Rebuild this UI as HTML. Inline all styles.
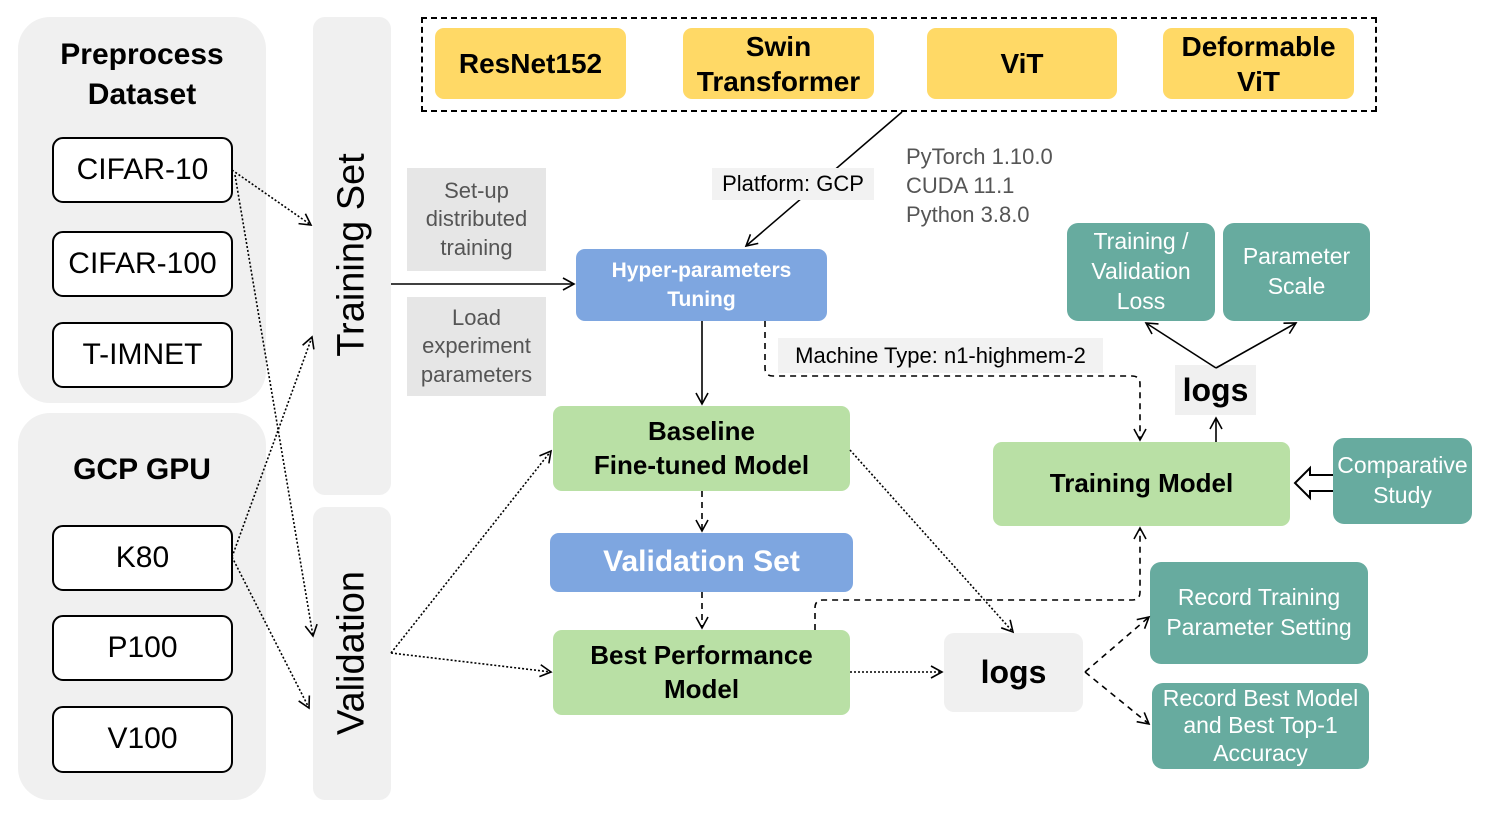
<!DOCTYPE html>
<html><head><meta charset="utf-8"><style>
body{margin:0;width:1489px;height:819px;background:#fff;position:relative;overflow:hidden;font-family:"Liberation Sans",Arial,sans-serif}
.b{position:absolute;display:flex;align-items:center;justify-content:center;text-align:center;box-sizing:border-box;line-height:1.15}
.panel{background:#f0f0f0;border-radius:32px}
.col{background:#f0f0f0;border-radius:12px}
.ds{border:2px solid #000;border-radius:11px;background:#fff;font-size:30px}
.y{background:#ffd966;border-radius:9px;font-weight:bold;font-size:28px;line-height:1.25}
.g{background:#b9e0a5;border-radius:9px;font-weight:bold;font-size:26px}
.bl{background:#7ea6e0;border-radius:9px;font-weight:bold;color:#fff}
.t{background:#67ab9f;border-radius:11px;color:#fff;font-size:23px}
.gr{background:#e6e6e6;color:#555;font-size:22px}
.lb{background:#f2f2f2;font-size:22px}
.vert{position:absolute;transform:rotate(-90deg);font-size:38px;white-space:nowrap}
</style></head><body>
<div class="b panel" style="left:18px;top:17px;width:248px;height:386px"></div>
<div class="b panel" style="left:18px;top:413px;width:248px;height:387px"></div>
<div class="b" style="left:18px;top:33px;width:248px;height:84px;font-weight:bold;font-size:30px;line-height:1.35">Preprocess<br>Dataset</div>
<div class="b" style="left:18px;top:448px;width:248px;height:44px;font-weight:bold;font-size:30px">GCP GPU</div>
<div class="b ds" style="left:52px;top:137px;width:181px;height:66px">CIFAR-10</div>
<div class="b ds" style="left:52px;top:231px;width:181px;height:66px">CIFAR-100</div>
<div class="b ds" style="left:52px;top:322px;width:181px;height:66px">T-IMNET</div>
<div class="b ds" style="left:52px;top:525px;width:181px;height:66px">K80</div>
<div class="b ds" style="left:52px;top:615px;width:181px;height:66px">P100</div>
<div class="b ds" style="left:52px;top:706px;width:181px;height:67px">V100</div>
<div class="b col" style="left:313px;top:17px;width:78px;height:478px"></div>
<div class="b col" style="left:313px;top:507px;width:78px;height:293px"></div>
<div class="vert" style="left:352px;top:255px;transform:translate(-50%,-50%) rotate(-90deg)">Training Set</div>
<div class="vert" style="left:352px;top:653px;transform:translate(-50%,-50%) rotate(-90deg)">Validation</div>
<div class="b" style="left:421px;top:17px;width:956px;height:95px;border:2px dashed #000"></div>
<div class="b y" style="left:435px;top:28px;width:191px;height:71px">ResNet152</div>
<div class="b y" style="left:683px;top:28px;width:191px;height:71px">Swin<br>Transformer</div>
<div class="b y" style="left:927px;top:28px;width:190px;height:71px">ViT</div>
<div class="b y" style="left:1163px;top:28px;width:191px;height:71px">Deformable<br>ViT</div>
<div class="b gr" style="left:407px;top:168px;width:139px;height:103px;line-height:1.3">Set-up<br>distributed<br>training</div>
<div class="b gr" style="left:407px;top:297px;width:139px;height:99px;line-height:1.3">Load<br>experiment<br>parameters</div>
<div style="position:absolute;left:906px;top:142px;font-size:22px;color:#555;line-height:29px">PyTorch 1.10.0<br>CUDA 11.1<br>Python 3.8.0</div>
<div class="b bl" style="left:576px;top:249px;width:251px;height:72px;font-size:21px;line-height:1.4">Hyper-parameters<br>Tuning</div>
<div class="b g" style="left:553px;top:406px;width:297px;height:85px;line-height:1.3">Baseline<br>Fine-tuned Model</div>
<div class="b bl" style="left:550px;top:533px;width:303px;height:59px;font-size:30px">Validation Set</div>
<div class="b g" style="left:553px;top:630px;width:297px;height:85px;line-height:1.3">Best Performance<br>Model</div>
<div class="b" style="left:944px;top:633px;width:139px;height:79px;background:#f0f0f0;border-radius:10px;font-weight:bold;font-size:32px">logs</div>
<div class="b g" style="left:993px;top:442px;width:297px;height:84px">Training Model</div>
<div class="b" style="left:1175px;top:365px;width:81px;height:50px;background:#f0f0f0;font-weight:bold;font-size:32px">logs</div>
<div class="b t" style="left:1067px;top:223px;width:148px;height:98px;line-height:1.3">Training /<br>Validation<br>Loss</div>
<div class="b t" style="left:1223px;top:223px;width:147px;height:98px;line-height:1.3">Parameter<br>Scale</div>
<div class="b t" style="left:1333px;top:438px;width:139px;height:86px;line-height:1.3">Comparative<br>Study</div>
<div class="b t" style="left:1150px;top:562px;width:218px;height:102px;line-height:1.3">Record Training<br>Parameter Setting</div>
<div class="b t" style="left:1152px;top:683px;width:217px;height:86px;line-height:1.2">Record Best Model<br>and Best Top-1<br>Accuracy</div>
<svg style="position:absolute;left:0;top:0" width="1489" height="819">
<defs><marker id="a" markerWidth="14" markerHeight="14" refX="12" refY="7" orient="auto" markerUnits="userSpaceOnUse"><path d="M1,1 L12,7 L1,13" fill="none" stroke="#000" stroke-width="1.6"/></marker></defs>
<g fill="none" stroke="#000" stroke-width="1.6">
<line x1="391" y1="284" x2="574" y2="284" marker-end="url(#a)"/>
<line x1="702" y1="321" x2="702" y2="404" marker-end="url(#a)"/>
<line x1="902" y1="112" x2="746" y2="246" marker-end="url(#a)"/>
<line x1="1216" y1="442" x2="1216" y2="418" marker-end="url(#a)"/>
<line x1="1216" y1="368" x2="1146" y2="323" marker-end="url(#a)"/>
<line x1="1216" y1="368" x2="1296" y2="323" marker-end="url(#a)"/>
<g stroke-dasharray="6,5">
<line x1="702" y1="491" x2="702" y2="531" marker-end="url(#a)"/>
<line x1="702" y1="592" x2="702" y2="628" marker-end="url(#a)"/>
<path d="M765,321 V368 Q765,376 773,376 H1132 Q1140,376 1140,384 V440" marker-end="url(#a)"/>
<path d="M815,630 V608 Q815,600 823,600 H1132 Q1140,600 1140,592 V528" marker-end="url(#a)"/>
<line x1="1085" y1="672" x2="1149" y2="617" marker-end="url(#a)"/>
<line x1="1085" y1="672" x2="1149" y2="724" marker-end="url(#a)"/>
</g>
<g stroke-dasharray="2,2">
<line x1="232" y1="170" x2="311" y2="225" marker-end="url(#a)"/>
<line x1="235" y1="175" x2="313" y2="636" marker-end="url(#a)"/>
<line x1="232" y1="557" x2="312" y2="337" marker-end="url(#a)"/>
<line x1="232" y1="557" x2="309" y2="708" marker-end="url(#a)"/>
<line x1="391" y1="653" x2="551" y2="451" marker-end="url(#a)"/>
<line x1="391" y1="653" x2="551" y2="672" marker-end="url(#a)"/>
<line x1="850" y1="450" x2="1013" y2="632" marker-end="url(#a)"/>
<line x1="850" y1="672" x2="942" y2="672" marker-end="url(#a)"/>
</g>
<path d="M1333,475 H1310 V468 L1295,483 L1310,498 V491 H1333" fill="#fff" stroke-width="2"/>
</g>
</svg>
<div class="b lb" style="left:712px;top:168px;width:162px;height:32px">Platform: GCP</div>
<div class="b lb" style="left:778px;top:338px;width:325px;height:35px">Machine Type: n1-highmem-2</div>
</body></html>
